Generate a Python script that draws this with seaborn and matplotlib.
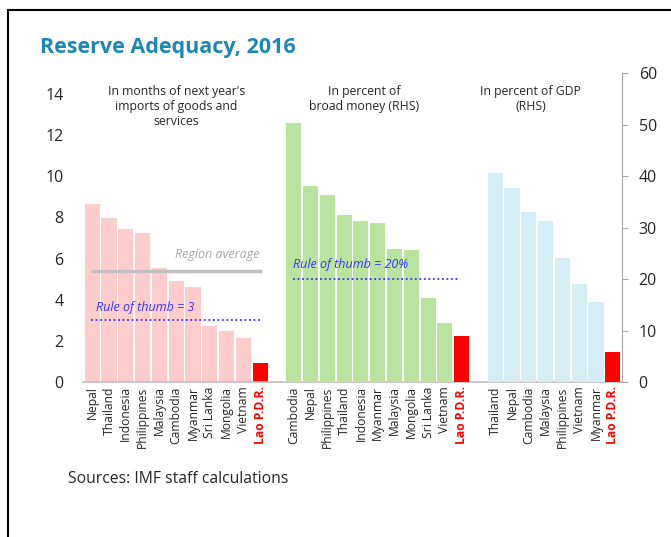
import seaborn as sns
import matplotlib.pyplot as plt
import numpy as np
import pandas as pd

# months of next year's imports (LHS)
months_countries = ["Nepal", "Thailand", "Indonesia", "Philippines", "Malaysia", "Cambodia",
                    "Myanmar", "Sri Lanka", "Mongolia", "Vietnam", "Lao P.D.R."]
months_values = [8.63, 7.96, 7.45, 7.25, 5.53, 4.9, 4.63, 2.72, 2.48, 2.14, 0.92]

# percent of broad money (RHS)
money_countries = ["Cambodia", "Nepal", "Philippines", "Thailand", "Indonesia", "Myanmar",
                   "Malaysia", "Mongolia", "Sri Lanka", "Vietnam", "Lao P.D.R."]
money_values = [50.3, 38.1, 36.3, 32.5, 31.3, 30.9, 25.9, 25.7, 16.4, 11.5, 8.95]

# percent of GDP (RHS)
gdp_countries = ["Thailand", "Nepal", "Cambodia", "Malaysia", "Philippines", "Vietnam",
                 "Myanmar", "Lao P.D.R."]
gdp_values = [40.7, 37.8, 33.1, 31.3, 24.1, 19.1, 15.5, 5.8]

region_average = 5.4
thumb_months = 3
thumb_money = 20

PINK = "#FFCCCC"
GREEN = "#B8E4A0"
BLUE = "#D5EDF4"
RED = "#FF0000"
TITLE = "#1C87B5"

sns.set_style("white")
plt.rcParams['font.family'] = ['Open Sans', 'DejaVu Sans']


def make_df(countries, values, start):
    df = pd.DataFrame({"country": countries, "value": values})
    df["slot"] = np.arange(start, start + len(countries))
    df["lao"] = df["country"] == "Lao P.D.R."
    return df


df_m = make_df(months_countries, months_values, 0)
df_b = make_df(money_countries, money_values, len(months_countries) + 1)
df_g = make_df(gdp_countries, gdp_values, df_b["slot"].max() + 2)

fig = plt.figure(figsize=(6.71, 5.37), dpi=100)
ax = fig.add_axes([0.1237, 0.2886, 0.8033, 0.5747])
ax2 = ax.twinx()

bar_kw = dict(x="slot", y="value", hue="lao", native_scale=True, dodge=False, width=0.9,
              legend=False, linewidth=0, saturation=1)
sns.barplot(data=df_m, palette={False: PINK, True: RED}, ax=ax, **bar_kw)
sns.barplot(data=df_b, palette={False: GREEN, True: RED}, ax=ax2, **bar_kw)
sns.barplot(data=df_g, palette={False: BLUE, True: RED}, ax=ax2, **bar_kw)

ax.set_ylim(0, 15)
ax2.set_ylim(0, 60)
ax.set_xlim(-0.55, 31.55)
ax.set_yticks(np.arange(0, 15, 2))
ax2.set_yticks(np.arange(0, 61, 10))
ax.set_xlabel("")
ax.set_ylabel("")
ax2.set_xlabel("")
ax2.set_ylabel("")

# reference lines
ax.hlines(region_average, -0.05, 10.1, color="#BFBFBF", lw=2.5, zorder=5)
ax.text(9.95, region_average + 0.8, "Region average", color="#A6A6A6", style="italic",
        fontsize=9, ha="right", va="center", zorder=6)
ax.hlines(thumb_months, -0.05, 10.1, color="#3333FF", lw=1.3, ls=(0, (1, 1.5)), zorder=5)
ax.text(0.25, thumb_months + 0.6, "Rule of thumb = 3", color="#3333FF", style="italic",
        fontsize=9, ha="left", va="center", zorder=6)
ax2.hlines(thumb_money, 11.95, 21.9, color="#3333FF", lw=1.3, ls=(0, (1, 1.5)), zorder=5)
ax2.text(11.95, thumb_money + 2.9, "Rule of thumb = 20%", color="#3333FF", style="italic",
         fontsize=9, ha="left", va="center", zorder=6)

# panel subtitles
ax.text(5.0, 14.45, "In months of next year's\nimports of goods and\nservices", fontsize=8.8,
        ha="center", va="top", linespacing=1.2)
ax.text(16.2, 14.45, "In percent of\nbroad money (RHS)", fontsize=8.8, ha="center", va="top",
        linespacing=1.2)
ax.text(26.1, 14.45, "In percent of GDP\n(RHS)", fontsize=8.8, ha="center", va="top",
        linespacing=1.2)

# x tick labels
all_df = pd.concat([df_m, df_b, df_g])
ax.set_xticks(all_df["slot"])
ax.set_xticklabels(all_df["country"], rotation=90, fontsize=8.7)
for lab, lao in zip(ax.get_xticklabels(), all_df["lao"]):
    if lao:
        lab.set_color(RED)
        lab.set_fontweight("bold")

# spines and ticks
for s in ["top", "left", "right"]:
    ax.spines[s].set_visible(False)
    ax2.spines[s].set_visible(False)
ax2.spines["right"].set_visible(True)
ax2.spines["right"].set_color("#A6A6A6")
ax2.spines["bottom"].set_visible(False)
ax.spines["bottom"].set_color("#BFBFBF")
ax.spines["bottom"].set_linewidth(1.2)
ax.tick_params(axis="y", length=0, labelsize=11.5, pad=14)
ax.tick_params(axis="x", length=0, pad=3)
ax2.tick_params(axis="y", length=4, color="#A6A6A6", labelsize=11.5, pad=8, direction="out")

# title, source, frame
fig.text(40 / 671, 1 - 48 / 537, "Reserve Adequacy, 2016", color=TITLE, fontsize=15.5,
         fontweight="bold", ha="left", va="center")
fig.text(68 / 671, 1 - 479 / 537, "Sources: IMF staff calculations", fontsize=11.3,
         ha="left", va="center")
fig.add_artist(plt.Line2D([8 / 671, 8 / 671], [0, 1 - 10 / 537], color="black", lw=1.5,
                          transform=fig.transFigure))
fig.add_artist(plt.Line2D([8 / 671, 1], [1 - 10 / 537, 1 - 10 / 537], color="black", lw=1.5,
                          transform=fig.transFigure))

fig.savefig("out.png", dpi=100)
